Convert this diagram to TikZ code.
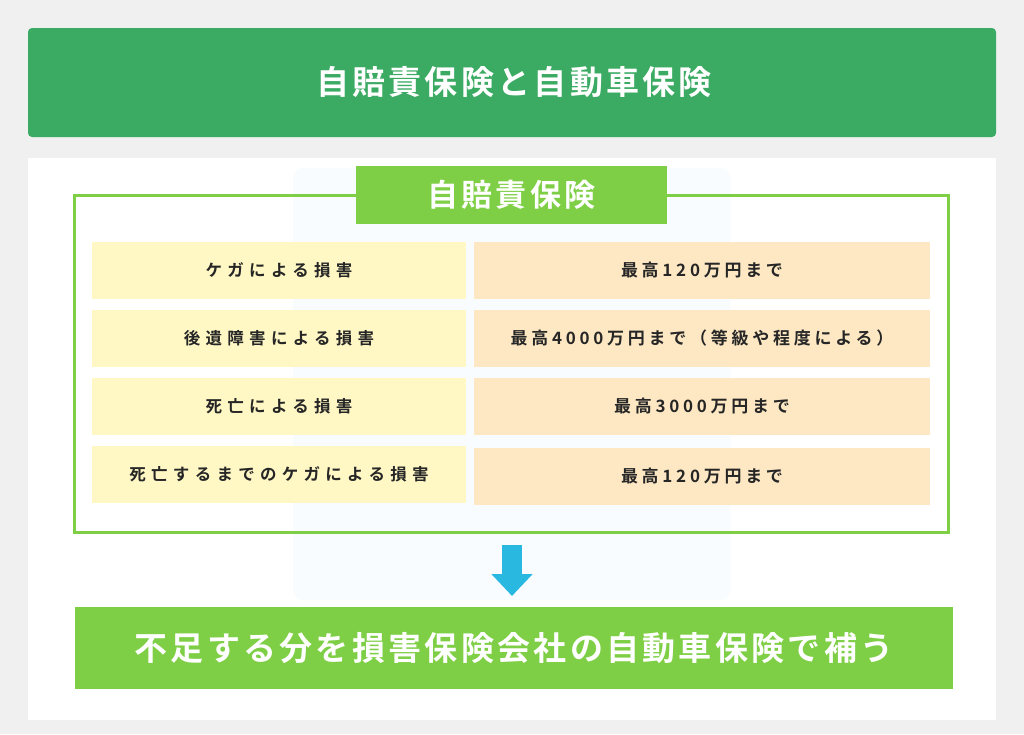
\documentclass[tikz,border=0pt]{standalone}
\usepackage{fontspec}
\newfontfamily\jp[LetterSpace=10]{Noto Sans CJK JP Bold}
\newfontfamily\jpcell[LetterSpace=32]{Noto Sans CJK JP Bold}
\newfontfamily\jpnum[LetterSpace=22]{Noto Sans CJK JP Bold}
\usetikzlibrary{positioning,arrows.meta}
\definecolor{bggray}{HTML}{F0F0F0}
\definecolor{darkgreen}{HTML}{3BAA62}
\definecolor{lightgreen}{HTML}{7ECF45}
\definecolor{leftcell}{HTML}{FFF8C5}
\definecolor{rightcell}{HTML}{FDE8C3}
\definecolor{arrowblue}{HTML}{29B8E0}
\definecolor{faintblue}{HTML}{F8FCFE}
\tikzset{
  cellleft/.style={fill=leftcell,minimum width=374pt,minimum height=57pt,font=\jpcell\fontsize{16.5}{18}\selectfont,text=black!85},
  cellright/.style={fill=rightcell,minimum width=456pt,minimum height=57pt,font=\jpnum\fontsize{17}{18}\selectfont,text=black!85},
  bannertext/.style={text=white,font=\jp\fontsize{33}{36}\selectfont}
}
\begin{document}
\begin{tikzpicture}[x=1pt,y=-1pt]
		\fill[bggray] (0,0) rectangle (1024,734);
		\useasboundingbox (0,0) rectangle (1024,734);
		\fill[darkgreen,rounded corners=4pt] (28,28) rectangle (996,137);
		\node[bannertext] (head) at (514,82) {自賠責保険と自動車保険};
		\fill[white] (28,158) rectangle (996,720);
		\fill[faintblue,rounded corners=10pt] (293,168) rectangle (730,600);
		\draw[lightgreen,line width=3pt] (74,195) rectangle (948,532);
		\node[fill=lightgreen,minimum width=311pt,minimum height=58pt,text=white,font=\jp\fontsize{31}{34}\selectfont] (title) at (511.5,195) {自賠責保険};
		% rows
		\node[cellleft] (l1) at (279,270.5) {ケガによる損害};
		\node[cellright] (r1) at (702,270.5) {最高120万円まで};
		\node[cellleft] (l2) at (279,338) {後遺障害による損害};
		\node[cellright] (r2) at (702,338) {最高4000万円まで（等級や程度による）};
		\node[cellleft] (l3) at (279,406.5) {死亡による損害};
		\node[cellright] (r3) at (702,406.5) {最高3000万円まで};
		\node[cellleft] (l4) at (279,474) {死亡するまでのケガによる損害};
		\node[cellright] (r4) at (702,476) {最高120万円まで};
		\coordinate (arrtop) at (512,545);
		\coordinate (arrtip) at (512,596);
		\draw[arrowblue,line width=20pt,-{Triangle[width=40pt,length=22pt]}] (arrtop) -- (arrtip);
		\node[fill=lightgreen,minimum width=878pt,minimum height=82pt,bannertext] (foot) at (514,648) {不足する分を損害保険会社の自動車保険で補う};
\end{tikzpicture}
\end{document}
